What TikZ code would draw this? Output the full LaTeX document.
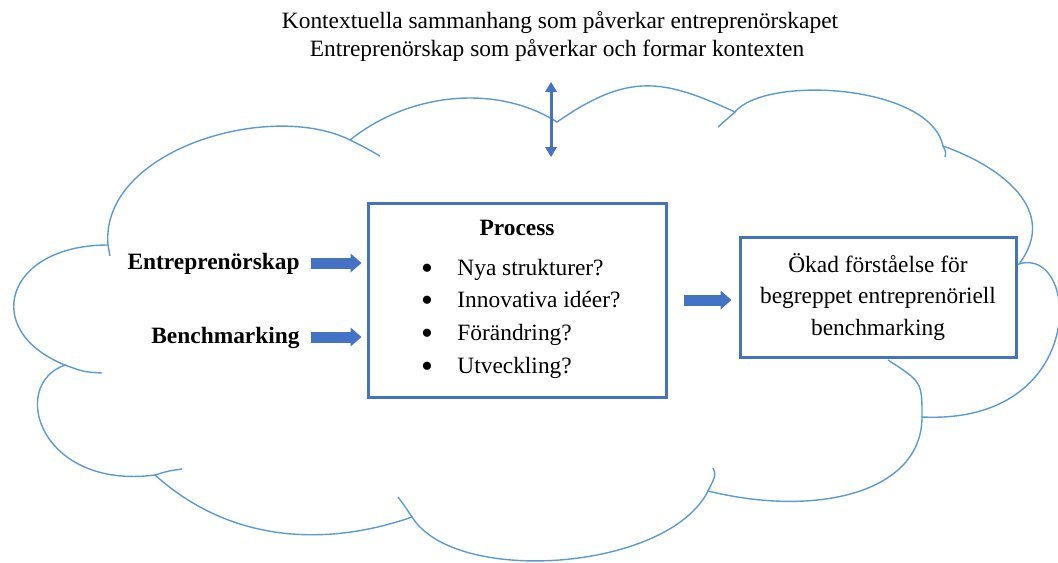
\documentclass[tikz,border=0pt]{standalone}
\usepackage{fontspec}
\setmainfont{Liberation Serif}
\usetikzlibrary{arrows.meta}
\definecolor{wordblue}{RGB}{68,114,196}
\definecolor{cloudblue}{RGB}{91,155,213}

\begin{document}
\begin{tikzpicture}[x=0.5pt,y=-0.5pt,
  every node/.style={inner sep=0pt,font=\fontsize{11.7}{14}\selectfont},
  cloudline/.style={draw=cloudblue,line width=0.7pt},
  boxline/.style={draw=wordblue,line width=1.5pt,fill=white},
  blockarrow/.style={wordblue,line width=5.5pt,-{Triangle[length=5.5pt,width=9.5pt,line width=0pt]}},
  dblarrow/.style={wordblue,line width=1.5pt,{Triangle[length=5pt,width=6pt,line width=0pt]}-{Triangle[length=5pt,width=6pt,line width=0pt]}},
  lbl/.style={font=\fontsize{11.7}{14}\selectfont\bfseries,text height=8pt,text depth=2pt},
  dot/.style={font=\fontsize{17}{14}\selectfont}]
\useasboundingbox (0,0) rectangle (1058,562);
\coordinate (k1) at (108,245);
\coordinate (k2) at (350,140);
\coordinate (k3) at (557,122);
\coordinate (k4) at (735,112);
\coordinate (k5) at (943,146);
\coordinate (k6) at (1019,264);
\coordinate (k7) at (922,417);
\coordinate (k8) at (708,491);
\coordinate (k9) at (412,517);
\coordinate (k10) at (155,475);
\coordinate (k11) at (65,365);
\draw[cloudline] (k1) .. controls (100,150) and (270,100) .. (k2)
  .. controls (410,92) and (497,84) .. (k3)
  .. controls (629,72) and (663,79) .. (k4)
  .. controls (765,75) and (930,84) .. (k5)
  .. controls (1000,166) and (1060,210) .. (k6)
  .. controls (1080,245) and (1090,425) .. (k7)
  .. controls (922,492) and (818,518) .. (k8)
  .. controls (668,571) and (455,586) .. (k9)
  .. controls (332,545) and (234,546) .. (k10)
  .. controls (40,490) and (8,385) .. (k11)
  .. controls (-20,331) and (5,245) .. (k1);
\draw[cloudline] (k1) -- (110,256)
  (k2) .. controls (366,148) .. (380,156)
  (k4) .. controls (726,120) .. (718,127)
  (k5) .. controls (946,152) .. (945,157)
  (k7) .. controls (922,382) .. (888,360)
  (k8) .. controls (716,475) .. (713,468)
  (k9) .. controls (404,505) .. (398,497)
  (k10) .. controls (168,471) .. (182,469)
  (k11) .. controls (84,372) .. (102,373);

\node[anchor=base] (top1) at (560,28) {Kontextuella sammanhang som påverkar entreprenörskapet};
\node[anchor=base] (top2) at (557,56) {Entreprenörskap som påverkar och formar kontexten};
\coordinate (up) at (551,82);
\coordinate (dn) at (551,157);
\draw[dblarrow] (up) -- (dn);

\node[boxline,minimum width=149pt,minimum height=97pt] (proc) at (517,300) {};
\node[anchor=base,font=\fontsize{11.7}{14}\selectfont\bfseries] (ptitle) at (517,235) {Process};
\node[dot] (d1) at (427,272) {\textbullet};
\node[anchor=base west] (p1) at (457,275) {Nya strukturer?};
\node[dot] (d2) at (427,304) {\textbullet};
\node[anchor=base west] (p2) at (457,307) {Innovativa idéer?};
\node[dot] (d3) at (427,337) {\textbullet};
\node[anchor=base west] (p3) at (457,340) {Förändring?};
\node[dot] (d4) at (427,370) {\textbullet};
\node[anchor=base west] (p4) at (457,373) {Utveckling?};

\node[lbl,anchor=east] (ent) at (300,263) {Entreprenörskap};
\node[lbl,anchor=east] (ben) at (300,337) {Benchmarking};
\draw[blockarrow,shorten <=5.5pt,shorten >=2.5pt] (ent.east) -- (ent.east -| proc.west);
\draw[blockarrow,shorten <=5.5pt,shorten >=2.5pt] (ben.east) -- (ben.east -| proc.west);

\node[boxline,minimum width=138pt,minimum height=60pt,align=center,font=\fontsize{11.7}{15.75}\selectfont] (res) at (878,297) {Ökad förståelse för\\begreppet entreprenöriell\\benchmarking};
\draw[blockarrow,shorten <=8pt,shorten >=3.5pt] (proc.east) -- (proc.east -| res.west);
\end{tikzpicture}
\end{document}
